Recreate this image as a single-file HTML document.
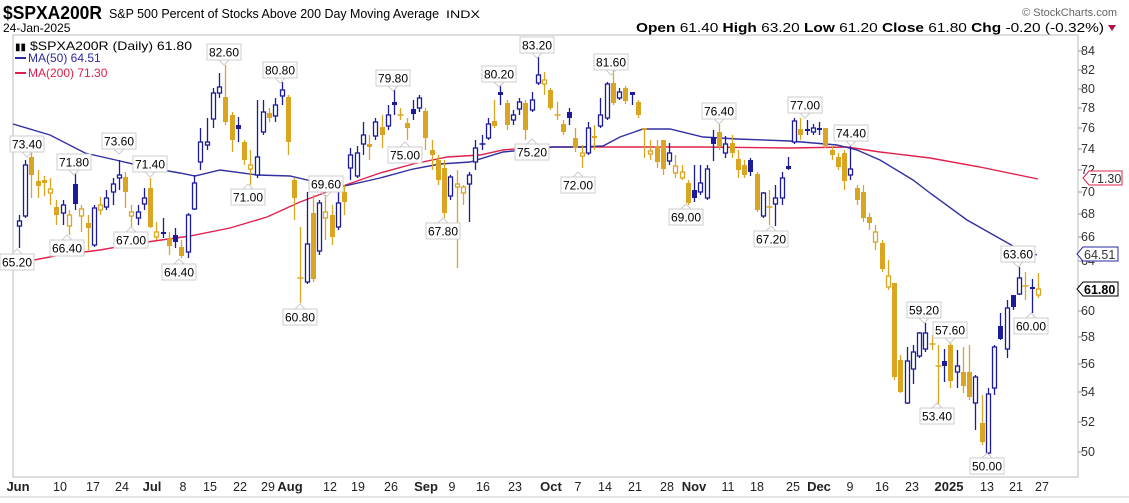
<!DOCTYPE html>
<html><head><meta charset="utf-8"><style>
body{margin:0;background:#fff;width:1129px;height:498px;overflow:hidden;font-family:"Liberation Sans",sans-serif}
svg text{font-family:"Liberation Sans",sans-serif}
</style></head><body>
<svg id="s" width="1129" height="498" viewBox="0 0 1129 498" xmlns="http://www.w3.org/2000/svg">
<rect width="1129" height="498" fill="#fff"/>
<text x="3" y="19" font-size="18" font-weight="bold" fill="#000" textLength="99" lengthAdjust="spacingAndGlyphs">$SPXA200R</text>
<text x="109" y="18" font-size="12.5" fill="#000" textLength="330" lengthAdjust="spacingAndGlyphs">S&amp;P 500 Percent of Stocks Above 200 Day Moving Average</text>
<text x="446" y="18" font-size="11" fill="#000" textLength="34" lengthAdjust="spacingAndGlyphs">INDX</text>
<text x="3" y="32" font-size="12" fill="#000">24-Jan-2025</text>
<text x="1117" y="16" font-size="11" fill="#666" text-anchor="end">© StockCharts.com</text>
<text x="636" y="32" font-size="12.5" fill="#000" textLength="468" lengthAdjust="spacingAndGlyphs"><tspan font-weight="bold">Open</tspan> 61.40 <tspan font-weight="bold">High</tspan> 63.20 <tspan font-weight="bold">Low</tspan> 61.20 <tspan font-weight="bold">Close</tspan> 61.80 <tspan font-weight="bold">Chg</tspan> -0.20 (-0.32%)</text>
<polygon points="1108,25 1116,25 1112,31" fill="#b01040"/>
<rect x="13" y="35" width="1065" height="442" fill="none" stroke="#bbb" stroke-width="1"/>
<g id="grid"></g>
<g id="ma"></g>
<g id="cd"></g>
<g font-size="12" fill="#000">
<text x="30" y="50" textLength="162" lengthAdjust="spacingAndGlyphs">$SPXA200R (Daily) 61.80</text>
<text x="15" y="50" font-size="10">▮▮</text>
<line x1="15" y1="58" x2="26" y2="58" stroke="#2a2aa0" stroke-width="2"/>
<text x="28" y="62" fill="#2a2aa0">MA(50) 64.51</text>
<line x1="15" y1="73" x2="26" y2="73" stroke="#e0204a" stroke-width="2"/>
<text x="28" y="77" fill="#e0204a">MA(200) 71.30</text>
</g>
<g id="lbl" font-size="12" fill="#000"></g>
<g font-size="12.5" fill="#333">
<text x="1081" y="55">84</text><text x="1081" y="74">82</text><text x="1081" y="93">80</text><text x="1081" y="112">78</text><text x="1081" y="132">76</text><text x="1081" y="153">74</text><text x="1081" y="174">72</text><text x="1081" y="196">70</text><text x="1081" y="218">68</text><text x="1081" y="241">66</text><text x="1081" y="265">64</text><text x="1081" y="315">60</text><text x="1081" y="341">58</text><text x="1081" y="368">56</text><text x="1081" y="396">54</text><text x="1081" y="426">52</text><text x="1081" y="456">50</text>
</g>
<polygon points="1083,178 1089,171 1122,171 1122,185 1089,185" fill="#fff" stroke="#e0204a"/>
<text x="1090" y="183" font-size="12.5" fill="#333">71.30</text>
<polygon points="1077,254 1083,247 1118,247 1118,261 1083,261" fill="#fff" stroke="#2a2aa0"/>
<text x="1084" y="259" font-size="12.5" fill="#333">64.51</text>
<polygon points="1077,289 1083,282 1118,282 1118,296 1083,296" fill="#fff" stroke="#000"/>
<text x="1084" y="294" font-size="12.5" font-weight="bold" fill="#000">61.80</text>
<g font-size="12.5" fill="#222" text-anchor="middle">
<text x="18" y="491" font-weight="bold" font-size="13">Jun</text><text x="60" y="491">10</text><text x="93" y="491">17</text><text x="122" y="491">24</text>
<text x="152" y="491" font-weight="bold" font-size="13">Jul</text><text x="183" y="491">8</text><text x="210" y="491">15</text><text x="240" y="491">22</text><text x="268" y="491">29</text>
<text x="290" y="491" font-weight="bold" font-size="13">Aug</text><text x="330" y="491">12</text><text x="358" y="491">19</text><text x="391" y="491">26</text>
<text x="426" y="491" font-weight="bold" font-size="13">Sep</text><text x="452" y="491">9</text><text x="483" y="491">16</text><text x="515" y="491">23</text>
<text x="551" y="491" font-weight="bold" font-size="13">Oct</text><text x="578" y="491">7</text><text x="605" y="491">14</text><text x="635" y="491">21</text><text x="667" y="491">28</text>
<text x="694" y="491" font-weight="bold" font-size="13">Nov</text><text x="728" y="491">11</text><text x="757" y="491">18</text><text x="793" y="491">25</text>
<text x="819" y="491" font-weight="bold" font-size="13">Dec</text><text x="850" y="491">9</text><text x="882" y="491">16</text><text x="912" y="491">23</text>
<text x="949" y="491" font-weight="bold" font-size="13">2025</text><text x="987" y="491">13</text><text x="1016" y="491">21</text><text x="1042" y="491">27</text>
</g>
<line x1="0" y1="497" x2="1129" y2="497" stroke="#ccc"/>
</svg>
<script>
var NS="http://www.w3.org/2000/svg";
function el(t,a,p){var e=document.createElementNS(NS,t);for(var k in a)e.setAttribute(k,a[k]);p.appendChild(e);return e;}
var D=[[213,235,'G',205,240],[221,226,'H',215,248],[165,216,'H',160,218],[157,175,'G',150,198],[181,186,'G',170,198],[180,183,'G',176,196],[189,193,'g',178,205],[207,215,'G',200,225],[205,213,'H',200,225],[215,226,'g',210,235],[184,204,'N',173,210],[209,216,'g',205,232],[223,228,'G',215,250],[208,245,'H',205,247],[205,210,'g',197,215],[198,207,'H',190,210],[184,192,'H',178,205],[175,178,'H',160,190],[177,192,'G',172,208],[212,216,'g',205,228],[212,218,'H',205,225],[198,204,'H',188,210],[188,227,'G',178,228],[232,237,'g',222,240],[232,234,'N',218,238],[238,246,'G',232,255],[235,242,'N',228,248],[247,256,'G',240,258],[215,252,'H',213,258],[183,209,'H',175,210],
[142,162,'H',128,170],[142,145,'H',118,150],[93,119,'H',88,128],[87,93,'H',73,98],[97,122,'G',65,125],[115,140,'G',112,152],[125,129,'N',117,142],[142,160,'G',140,165],[165,169,'g',150,185],[157,175,'H',100,178],[112,132,'H',100,135],[113,118,'G',108,122],[105,116,'H',98,122],[90,96,'H',82,105],[97,142,'G',95,155],
[180,198,'G',178,220],[277,279,'g',227,303],[244,282,'H',192,284],[213,279,'G',195,282],[203,251,'H',200,255],[212,218,'g',195,240],[215,237,'G',205,245],[203,227,'H',180,230],[192,202,'G',185,215],[155,168,'H',148,180],[153,176,'H',146,178],[135,144,'H',122,155],[144,147,'G',135,160],[122,136,'H',118,140],[127,135,'G',115,148],[115,126,'H',105,130],[102,105,'N',90,115],[114,116,'g',108,120],[123,128,'G',118,140],[109,114,'N',100,120],[98,108,'H',95,112],[111,138,'G',108,150],[150,155,'G',140,170],[160,180,'G',155,185],[168,213,'G',160,218],[177,196,'H',175,200],[184,187,'g',170,268],[187,193,'g',185,205],[175,184,'H',172,222],[148,162,'H',140,170],[143,145,'H',135,150],[124,138,'H',118,140],[121,126,'G',100,128],[92,95,'N',85,105],[103,125,'G',100,130],[115,120,'H',110,125],[102,109,'H',98,115],[103,130,'G',100,140],[100,110,'H',92,112],[75,83,'H',57,85],[80,84,'g',72,95],[90,108,'G',88,110],[114,116,'g',102,120],[124,132,'G',120,135],[112,118,'N',108,125],[138,148,'G',128,152],[153,156,'g',145,168],[128,153,'H',122,155],[136,138,'G',125,150],[115,126,'H',98,128],[84,118,'H',82,120],[83,103,'G',67,105],[92,98,'H',88,100],[88,101,'G',86,104],[92,95,'N',92,105],[102,115,'G',100,118],[128,129,'G',128,158],[151,154,'g',140,160],[146,162,'G',140,168],[140,169,'G',140,175],[153,161,'H',143,165],[166,173,'g',155,178],[172,178,'g',165,180],[183,203,'G',180,205],[190,198,'N',165,202],[183,192,'H',165,195],[169,198,'H',165,200],
[137,144,'N',130,161],[132,147,'G',124,150],[144,153,'H',136,158],[143,153,'G',135,158],[159,170,'G',150,178],[165,175,'G',160,178],[160,172,'N',158,176],[174,210,'G',172,212],[193,216,'H',192,218],[206,208,'g',190,225],[198,204,'H',185,226],[178,198,'H',172,205],[166,169,'N',157,170],[121,142,'H',118,144],[129,135,'G',118,140],[129,131,'N',120,135],[128,132,'H',124,135],[128,130,'N',122,135],[128,146,'G',128,148],[150,155,'G',146,160],[157,167,'G',153,170],[153,181,'G',150,190],[169,175,'H',146,180],[188,200,'G',185,205],[192,218,'G',185,222],[217,223,'G',213,230],[232,242,'g',225,250],[243,269,'G',240,272],[276,287,'g',260,290],[283,377,'G',283,380],[360,392,'G',355,393],[361,403,'H',347,404],[352,369,'H',345,384],[333,356,'H',332,358],[333,349,'H',323,352],[343,345,'g',335,350],[365,367,'g',345,405],[361,366,'N',349,382],[345,381,'G',343,388],[366,372,'H',350,388],[372,386,'G',347,393],[372,397,'G',345,400],[377,403,'H',375,430],[423,442,'G',395,445],[394,453,'H',388,455],[347,388,'H',345,395],[326,339,'N',313,340],[308,349,'H',300,358],[295,307,'N',295,310],[278,294,'H',267,295],[285,287,'g',272,300],[287,289,'N',279,313],[289,295,'g',273,298]];
var cd=document.getElementById('cd'),N=D.length,dx=(1038-12.7)/(N-1);
var GOLD='#daa520',NAVY='#1c1c9a';
D.forEach(function(d,k){var x=Math.round(12.7+k*dx)+0.5;if(x<14)return;
var col=(d[2]=='G'||d[2]=='g')?GOLD:NAVY;var fill=(d[2]=='G'||d[2]=='N');
el('line',{x1:x,x2:x,y1:d[3],y2:d[4],stroke:col,'stroke-width':1.3},cd);
var h=Math.max(d[1]-d[0],1.5);
if(fill)el('rect',{x:x-2.5,y:d[0],width:5,height:h,fill:col},cd);
else if(h<=2.5)el('line',{x1:x-3,x2:x+3,y1:d[0]+1,y2:d[0]+1,stroke:col,'stroke-width':1.5},cd);
else el('rect',{x:x-2,y:d[0],width:4,height:h,fill:'#fff',stroke:col,'stroke-width':1.3},cd);});
var ma=document.getElementById('ma');
var B=[[13,124],[50,135],[85,153],[120,161],[150,168],[180,173],[195,176],[220,170],[257,175],[290,176],[320,183],[340,187],[380,178],[413,169],[440,164],[470,162],[503,152],[553,147],[580,147],[603,146],[620,137],[643,129],[670,129],[703,137],[737,139],[790,141],[837,145],[857,150],[880,160],[913,180],[930,193],[967,220],[1013,246],[1037,255]];
var R=[[13,264],[60,255],[100,250],[140,243],[190,236],[230,228],[267,217],[300,202],[340,187],[380,173],[413,164],[447,157],[480,155],[503,150],[537,147],[603,147],[703,147],[790,148],[847,147],[880,152],[930,158],[980,167],[1038,179]];
function pl(p,c){el('polyline',{points:p.map(function(q){return q.join(',')}).join(' '),fill:'none',stroke:c,'stroke-width':1.4},ma);}
pl(R,'#e0204a');pl(B,'#3030a0');
var g=document.getElementById('grid');
for(var y of [51,70,89,108,128,149,170,192,214,237,261,286,311,337,364,392,422,452])el('line',{x1:1078,x2:1082,y1:y,y2:y,stroke:'#999'},g);
var L=[['73.40',27,144,1],['71.80',74,162,1],['73.60',119,141,1],['71.40',150,164,1],['66.40',67,248,0],['65.20',17,262,0],['67.00',131,240,0],['64.40',179,272,0],['82.60',224,52,1],['80.80',280,70,1],['71.00',248,197,0],['69.60',326,184,1],['60.80',300,317,0],['79.80',393,78,1],['75.00',405,155,0],['67.80',443,231,0],['80.20',499,74,1],['83.20',537,45,1],['75.20',532,152,0],['72.00',578,185,0],['81.60',611,62,1],['76.40',719,111,1],['69.00',686,217,0],['67.20',771,239,0],['77.00',805,105,1],['74.40',851,133,1],['59.20',924,310,1],['57.60',950,330,1],['53.40',937,416,0],['63.60',1018,254,1],['60.00',1031,326,0],['50.00',987,466,0]];
var lg=document.getElementById('lbl');
L.forEach(function(l){var x=l[1],y=l[2];
el('rect',{x:x-17,y:y-8,width:34,height:16,fill:'#fff',stroke:'#ccc'},lg);
if(l[3])el('polyline',{points:(x-5)+','+(y+8)+' '+x+','+(y+13)+' '+(x+5)+','+(y+8),fill:'none',stroke:'#ccc'},lg);
else el('polyline',{points:(x-5)+','+(y-8)+' '+x+','+(y-13)+' '+(x+5)+','+(y-8),fill:'none',stroke:'#ccc'},lg);
var t=el('text',{x:x,y:y+4.5,'text-anchor':'middle'},lg);t.textContent=l[0];});
</script>
</body></html>
